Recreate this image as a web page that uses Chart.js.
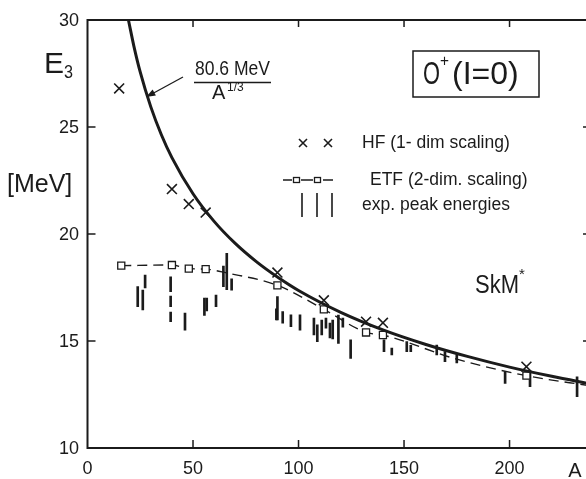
<!DOCTYPE html>
<html><head><meta charset="utf-8">
<script src="https://cdn.jsdelivr.net/npm/chart.js@4.4.1/dist/chart.umd.min.js"></script>
<style>
html,body{margin:0;padding:0;background:#fff;overflow:hidden;width:586px;height:479px;}
#wrap{position:relative;width:600px;height:479px;}
canvas{display:block;}
</style></head>
<body><div id="wrap"><canvas id="c" width="600" height="479"></canvas></div>
<script>
// ---- data ----
const curveA = [19.4, 22, 25, 30, 35, 40, 50, 60, 70, 80, 90, 100, 120, 140, 160, 180, 200, 220, 238.6];
const curveE = [30.0, 28.77, 27.56, 25.94, 24.64, 23.57, 21.88, 20.59, 19.56, 18.71, 17.99, 17.36, 16.34, 15.52, 14.85, 14.28, 13.78, 13.35, 12.99];

const hfA = [15, 40, 48, 56, 90, 112, 132, 140, 208];
const hfE = [26.8, 22.1, 21.4, 21.0, 18.2, 16.9, 15.9, 15.85, 13.8];

const etfA = [16, 40, 48, 56, 90, 112, 132, 140, 208];
const etfE = [18.52, 18.55, 18.38, 18.36, 17.6, 16.48, 15.4, 15.28, 13.38];

const etfLineA = [16, 40, 48, 56, 66, 90, 112, 132, 140, 175, 208, 238.6];
const etfLineE = [18.52, 18.55, 18.38, 18.36, 18.18, 17.6, 16.48, 15.4, 15.28, 14.15, 13.38, 12.9];

const expA  = [23.8, 26.2, 27.3, 39.4, 39.4, 39.4, 46.2, 55.4, 56.5, 60.9, 64.4, 66.0, 68.3, 90.0, 89.5, 92.5, 96.4, 100.7, 107.3, 108.9, 111.0, 113.0, 114.9, 116.2, 118.9, 121.0, 124.7, 140.5, 144.2, 151.3, 153.2, 165.5, 169.4, 175.0, 197.9, 209.7, 232.0];
const expLo = [16.6, 16.45, 17.48, 17.3, 16.6, 15.9, 15.51, 16.2, 16.4, 16.6, 17.54, 17.4, 17.38, 15.98, 15.98, 15.83, 15.67, 15.51, 15.28, 14.97, 15.28, 15.6, 15.14, 15.1, 14.89, 15.65, 14.19, 14.5, 14.35, 14.5, 14.5, 14.35, 14.03, 13.97, 13.02, 12.87, 12.4];
const expHi = [17.54, 17.38, 18.08, 18.0, 17.1, 16.35, 16.31, 17.0, 17.0, 17.15, 18.5, 19.1, 17.9, 17.07, 16.5, 16.37, 16.22, 16.22, 16.07, 15.75, 15.98, 16.07, 15.84, 15.98, 16.21, 16.07, 15.05, 15.05, 14.67, 14.97, 14.8, 14.81, 14.5, 14.35, 13.57, 13.5, 13.33];

const xTickVals = [0, 50, 100, 150, 200];
const xTickLabels = ['0', '50', '100', '150', '200'];
const yTickVals = [10, 15, 20, 25, 30];
const yTickLabels = ['10', '15', '20', '25', '30'];
const xMin = 0, xMax = 238.6, yMin = 10, yMax = 30;

// ---- build datasets ----
const pts = (xs, ys) => xs.map((x, i) => ({x: x, y: ys[i]}));
const INK = '#1b1b1b';
const FONT = '"Liberation Sans", Arial, sans-serif';

function txt(ctx, s, x, y, size, align, maxW) {
  ctx.font = size + 'px ' + FONT;
  ctx.textAlign = align || 'left';
  ctx.textBaseline = 'middle';
  ctx.fillStyle = INK;
  if (maxW) ctx.fillText(s, x, y, maxW); else ctx.fillText(s, x, y);
}

const decor = {
  id: 'decor',
  afterDraw(chart) {
    const ctx = chart.ctx;
    const xs = chart.scales.x, ys = chart.scales.y;
    const L = xs.getPixelForValue(xMin), R = xs.getPixelForValue(xMax);
    const T = ys.getPixelForValue(yMax), B = ys.getPixelForValue(yMin);
    ctx.save();
    ctx.strokeStyle = INK;
    ctx.lineWidth = 2;
    ctx.beginPath();
    ctx.moveTo(L, T); ctx.lineTo(R, T); ctx.lineTo(R, B); ctx.lineTo(L, B); ctx.closePath();
    ctx.stroke();
    // ticks
    ctx.lineWidth = 1.5;
    ctx.beginPath();
    xTickVals.forEach(v => {
      if (v <= xMin) return;
      const p = xs.getPixelForValue(v);
      ctx.moveTo(p, B); ctx.lineTo(p, B - 8);
      ctx.moveTo(p, T); ctx.lineTo(p, T + 7);
    });
    yTickVals.forEach(v => {
      if (v <= yMin || v >= yMax) return;
      const p = ys.getPixelForValue(v);
      ctx.moveTo(L, p); ctx.lineTo(L + 8, p);
      ctx.moveTo(R, p); ctx.lineTo(R - 8, p);
    });
    ctx.stroke();
    // tick labels
    xTickVals.forEach((v, i) => txt(ctx, xTickLabels[i], xs.getPixelForValue(v), 469, 18, 'center', xTickLabels[i].length * 10));
    yTickVals.forEach((v, i) => txt(ctx, yTickLabels[i], 79, ys.getPixelForValue(v) + 1, 18, 'right', 22));
    // axis titles
    txt(ctx, 'A', 575, 471, 20, 'center', 16);
    txt(ctx, 'E', 44, 65, 30, 'left', 20);
    txt(ctx, '3', 64, 73, 18, 'left', 9);
    txt(ctx, '[MeV]', 7, 185, 25, 'left', 66);
    // formula label
    txt(ctx, '80.6 MeV', 195, 69, 20, 'left', 75);
    ctx.lineWidth = 1.4;
    ctx.beginPath(); ctx.moveTo(194, 82.5); ctx.lineTo(271, 82.5); ctx.stroke();
    txt(ctx, 'A', 212, 93, 20, 'left', 14);
    txt(ctx, '1/3', 227, 88, 12, 'left', 19);
    // arrow
    ctx.lineWidth = 1.3;
    ctx.beginPath(); ctx.moveTo(183, 77); ctx.lineTo(150, 95); ctx.stroke();
    const ax = 146, ay = 97, ang = Math.atan2(97 - 77, 146 - 183);
    ctx.beginPath();
    ctx.moveTo(ax, ay);
    ctx.lineTo(ax - 10 * Math.cos(ang - 0.35), ay - 10 * Math.sin(ang - 0.35));
    ctx.lineTo(ax - 10 * Math.cos(ang + 0.35), ay - 10 * Math.sin(ang + 0.35));
    ctx.closePath(); ctx.fillStyle = INK; ctx.fill();
    // box
    ctx.lineWidth = 1.5;
    ctx.strokeRect(413, 51, 126, 46);
    txt(ctx, 'O', 423, 75, 32, 'left', 17);
    txt(ctx, '+', 440, 62, 16, 'left', 9);
    txt(ctx, '(I=0)', 452, 75, 32, 'left', 76);
    // legend
    ctx.lineWidth = 1.6;
    [303, 328].forEach(cx => {
      ctx.beginPath();
      ctx.moveTo(cx - 4, 139); ctx.lineTo(cx + 4, 147);
      ctx.moveTo(cx + 4, 139); ctx.lineTo(cx - 4, 147);
      ctx.stroke();
    });
    txt(ctx, 'HF (1- dim scaling)', 362, 143, 17.5, 'left', 160);
    ctx.lineWidth = 1.3;
    ctx.beginPath();
    ctx.moveTo(283, 180); ctx.lineTo(292, 180);
    ctx.moveTo(301, 180); ctx.lineTo(313, 180);
    ctx.moveTo(323, 180); ctx.lineTo(333, 180);
    ctx.stroke();
    ctx.strokeRect(293.5, 177.5, 6, 5);
    ctx.strokeRect(314.5, 177.5, 6, 5);
    txt(ctx, 'ETF (2-dim. scaling)', 370, 180, 17.5, 'left', 158);
    ctx.lineWidth = 1.6;
    ctx.beginPath();
    [302, 317, 332].forEach(cx => { ctx.moveTo(cx, 193); ctx.lineTo(cx, 217); });
    ctx.stroke();
    txt(ctx, 'exp. peak energies', 362, 205, 17.5, 'left', 148);
    // SkM*
    txt(ctx, 'SkM', 475, 286, 26, 'left', 44);
    txt(ctx, '*', 519, 275, 15, 'left');
    ctx.restore();
  }
};

new Chart(document.getElementById('c'), {
  type: 'scatter',
  data: {
    datasets: [
      { type: 'line', label: '80.6 MeV / A^1/3', data: pts(curveA, curveE), borderColor: INK, borderWidth: 3,
        pointRadius: 0, cubicInterpolationMode: 'monotone', fill: false },
      { label: 'HF (1-dim scaling)', data: pts(hfA, hfE), pointStyle: 'crossRot', pointRadius: 7,
        borderColor: INK, borderWidth: 1.6, showLine: false },
      { label: 'ETF (2-dim. scaling)', data: pts(etfA, etfE), pointStyle: 'rect', pointRadius: 5,
        backgroundColor: '#fff', borderColor: INK, borderWidth: 1.3, showLine: false },
      { type: 'line', label: 'ETF line', data: pts(etfLineA, etfLineE), borderColor: INK, borderWidth: 1.4,
        borderDash: [10, 6], pointRadius: 0, cubicInterpolationMode: 'monotone', fill: false },
      { type: 'bar', label: 'exp. peak energies', data: expA.map((a, i) => ({x: a, y: [expLo[i], expHi[i]]})),
        backgroundColor: INK, borderWidth: 0, barThickness: 2, grouped: false }
    ]
  },
  options: {
    responsive: false,
    animation: false,
    devicePixelRatio: 1,
    layout: { padding: { left: 87.5, top: 20, right: 9, bottom: 31 } },
    plugins: { legend: { display: false }, tooltip: { enabled: false } },
    scales: {
      x: { type: 'linear', display: false, min: xMin, max: xMax, offset: false },
      y: { type: 'linear', display: false, min: yMin, max: yMax }
    }
  },
  plugins: [decor]
});
</script>
</body></html>
